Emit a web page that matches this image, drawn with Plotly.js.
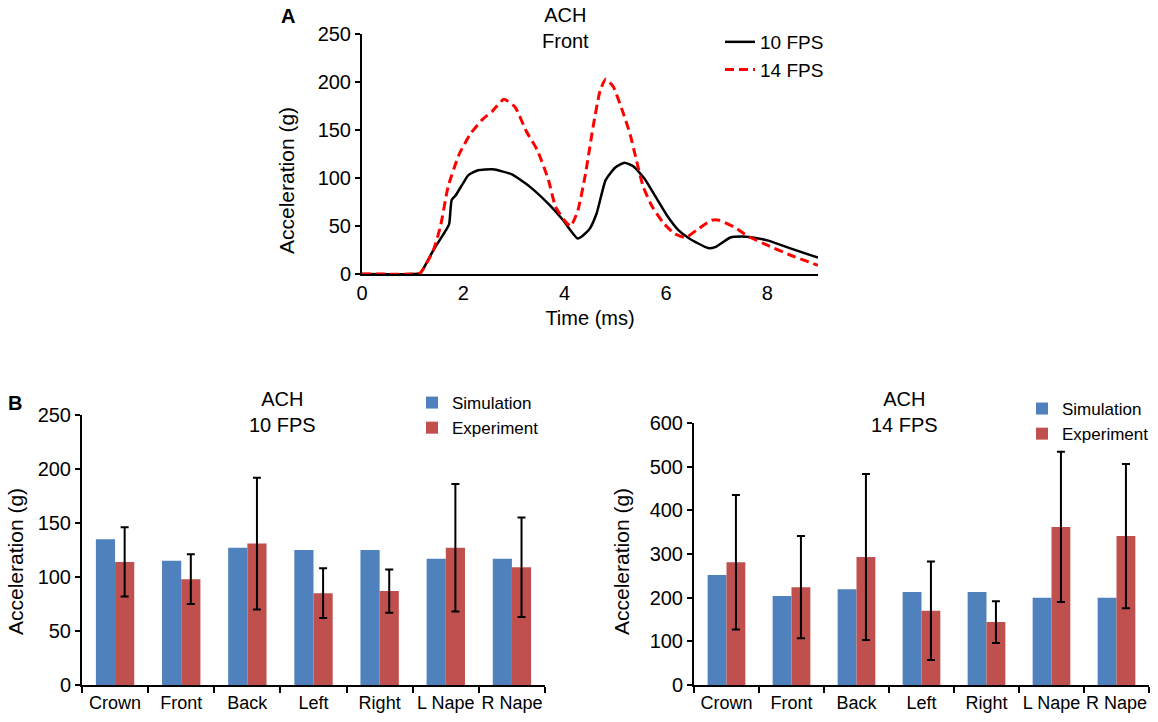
<!DOCTYPE html>
<html>
<head>
<meta charset="utf-8">
<script src="https://cdn.plot.ly/plotly-3.0.1.min.js"></script>
<style>
  body { margin: 0; background: white; }
  #plot_div { width: 1158px; height: 722px; }
</style>
</head>
<body>
<div id="plot_div"></div>
<script>
// panel A: acceleration traces
var time10 = [0, 1.0, 1.15, 1.41, 1.66, 1.72, 1.77, 1.85, 2.0, 2.1, 2.29, 2.58, 2.95, 3.31, 3.68, 3.97, 4.26, 4.48, 4.63, 4.81, 5.0, 5.18, 5.36, 5.58, 5.8, 6.02, 6.24, 6.46, 6.83, 6.97, 7.27, 7.49, 7.71, 8.0, 8.44, 9.0];
var acc10 = [0, 0, 1, 25, 46, 52, 77, 82, 95, 103, 108, 109, 104, 91, 73, 56, 37, 46, 63, 98, 111, 116, 112, 99, 80, 61, 46, 37, 27, 28, 38, 39, 38, 35, 27, 17];
var time14 = [0, 1.0, 1.15, 1.41, 1.55, 1.7, 1.92, 2.14, 2.36, 2.58, 2.8, 3.02, 3.24, 3.46, 3.68, 3.82, 4.04, 4.12, 4.26, 4.41, 4.56, 4.7, 4.81, 4.96, 5.14, 5.29, 5.4, 5.55, 5.73, 5.95, 6.17, 6.39, 6.61, 6.9, 7.05, 7.34, 7.63, 8.0, 8.44, 9.0];
var acc14 = [0, 0, 1, 25, 50, 91, 125, 146, 160, 170, 182, 174, 149, 129, 98, 70, 53, 50, 66, 104, 153, 191, 203, 195, 170, 146, 122, 91, 70, 53, 42, 38, 46, 56, 56, 49, 39, 30, 20, 9];

// panel B: peak accelerations per impact site
var regions = ['Crown', 'Front', 'Back', 'Left', 'Right', 'L Nape', 'R Nape'];
var sim10 = [135, 115, 127, 125, 125, 117, 117];
var exp10 = [114, 98, 131, 85, 87, 127, 109];
var err10 = [32, 23, 61, 23, 20, 59, 46];
var sim14 = [252, 204, 219, 213, 213, 200, 200];
var exp14 = [281, 224, 293, 170, 144, 362, 341];
var err14 = [154, 117, 190, 113, 48, 172, 165];

var W = 1158, H = 722;
function px(x) { return x / W; }
function py(y) { return 1 - y / H; }

var fnt = 'Liberation Sans, Arial, sans-serif';
var blue = '#4f81bd', red = '#c0504d';

var data = [
  { type: 'scatter', mode: 'lines', x: time10, y: acc10, name: '10 FPS',
    line: { color: 'black', width: 2.5, shape: 'spline', smoothing: 0.5 },
    xaxis: 'x', yaxis: 'y', legend: 'legend' },
  { type: 'scatter', mode: 'lines', x: time14, y: acc14, name: '14 FPS',
    line: { color: '#ff0000', width: 3, dash: '9px,5px', shape: 'spline', smoothing: 0.5 },
    xaxis: 'x', yaxis: 'y', legend: 'legend' },
  { type: 'bar', x: regions, y: sim10, name: 'Simulation', marker: { color: blue },
    xaxis: 'x2', yaxis: 'y2', legend: 'legend2' },
  { type: 'bar', x: regions, y: exp10, name: 'Experiment', marker: { color: red },
    error_y: { type: 'data', array: err10, visible: true, color: 'black', thickness: 2, width: 4 },
    xaxis: 'x2', yaxis: 'y2', legend: 'legend2' },
  { type: 'bar', x: regions, y: sim14, name: 'Simulation', marker: { color: blue },
    xaxis: 'x3', yaxis: 'y3', legend: 'legend3' },
  { type: 'bar', x: regions, y: exp14, name: 'Experiment', marker: { color: red },
    error_y: { type: 'data', array: err14, visible: true, color: 'black', thickness: 2, width: 4 },
    xaxis: 'x3', yaxis: 'y3', legend: 'legend3' }
];

var axbase = {
  showline: true, linecolor: 'black', linewidth: 2, showgrid: false, zeroline: false,
  tickfont: { family: fnt, size: 20, color: 'black' }, automargin: false
};
function ax(extra) { return Object.assign({}, axbase, extra); }

var catfont = { family: fnt, size: 18, color: 'black' };

var layout = {
  width: W, height: H,
  margin: { l: 0, r: 0, t: 0, b: 0 },
  paper_bgcolor: 'white', plot_bgcolor: 'white',
  font: { family: fnt, color: 'black', size: 20 },
  barmode: 'group', bargap: 0.42, bargroupgap: 0,
  xaxis: ax({ domain: [px(362), px(818)], anchor: 'y', range: [0, 9], tickvals: [0, 2, 4, 6, 8],
    ticks: '', title: { text: 'Time (ms)', font: { size: 20 }, standoff: 8 } }),
  yaxis: ax({ domain: [py(274), py(34)], anchor: 'x', range: [0, 250], dtick: 50,
    ticks: 'outside', ticklen: 5, tickwidth: 2, tickcolor: 'black' }),
  xaxis2: ax({ domain: [px(82), px(545)], anchor: 'y2', type: 'category', tickson: 'boundaries',
    tickangle: 0, ticks: 'outside', ticklen: 6, tickwidth: 2, tickcolor: 'black', tickfont: catfont }),
  yaxis2: ax({ domain: [py(685), py(415)], anchor: 'x2', range: [0, 250], dtick: 50,
    ticks: 'outside', ticklen: 5, tickwidth: 2, tickcolor: 'black' }),
  xaxis3: ax({ domain: [px(694), px(1149)], anchor: 'y3', type: 'category', tickson: 'boundaries',
    tickangle: 0, ticks: 'outside', ticklen: 6, tickwidth: 2, tickcolor: 'black', tickfont: catfont }),
  yaxis3: ax({ domain: [py(685), py(423)], anchor: 'x3', range: [0, 600], dtick: 100,
    ticks: 'outside', ticklen: 5, tickwidth: 2, tickcolor: 'black' }),
  legend: { x: px(720), y: py(23), xanchor: 'left', yanchor: 'top', bgcolor: 'rgba(0,0,0,0)',
    font: { family: fnt, size: 19 }, itemwidth: 30 },
  legend2: { x: px(412), y: py(385), xanchor: 'left', yanchor: 'top', bgcolor: 'rgba(0,0,0,0)',
    font: { family: fnt, size: 17 }, itemwidth: 30 },
  legend3: { x: px(1022), y: py(391), xanchor: 'left', yanchor: 'top', bgcolor: 'rgba(0,0,0,0)',
    font: { family: fnt, size: 17 }, itemwidth: 30 },
  annotations: [
    { text: '<b>A</b>', x: px(288), y: py(16) },
    { text: 'ACH<br>Front', x: px(565), y: py(28) },
    { text: 'Acceleration (g)', textangle: -90, x: px(287), y: py(181), font: { size: 21 } },
    { text: '<b>B</b>', x: px(15), y: py(403) },
    { text: 'ACH<br>10 FPS', x: px(282), y: py(412) },
    { text: 'Acceleration (g)', textangle: -90, x: px(15), y: py(562), font: { size: 21 } },
    { text: 'ACH<br>14 FPS', x: px(904), y: py(412) },
    { text: 'Acceleration (g)', textangle: -90, x: px(621), y: py(562), font: { size: 21 } }
  ].map(function (a) {
    return Object.assign({ xref: 'paper', yref: 'paper', xanchor: 'center', yanchor: 'middle',
      showarrow: false, font: { size: 20 } }, a);
  })
};

var config = { staticPlot: true, responsive: false };

Plotly.newPlot('plot_div', data, layout, config);
</script>
</body>
</html>
